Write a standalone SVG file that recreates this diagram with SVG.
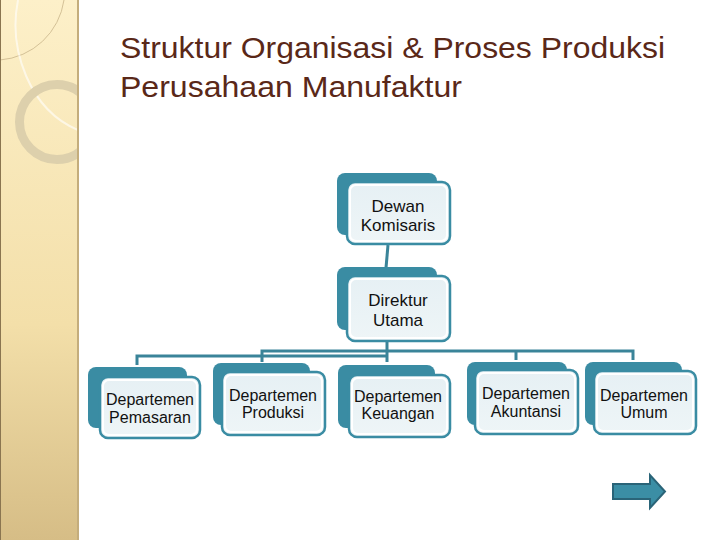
<svg xmlns="http://www.w3.org/2000/svg" width="720" height="540" viewBox="0 0 720 540">
<defs>
<linearGradient id="band" x1="0" y1="0" x2="0" y2="1">
<stop offset="0" stop-color="#fdf0c9"/>
<stop offset="0.6" stop-color="#f3dfa9"/>
<stop offset="1" stop-color="#d6bd86"/>
</linearGradient>
<linearGradient id="front" x1="0" y1="0" x2="0" y2="1">
<stop offset="0" stop-color="#e6f0f4"/>
<stop offset="1" stop-color="#eef5f7"/>
</linearGradient>
<clipPath id="bandclip"><rect x="0" y="0" width="78" height="540"/></clipPath>
</defs>
<style>
.back{fill:#3a8ca3;}
.front{fill:url(#front);stroke:#3a8ca3;stroke-width:2.5;}
.rim{fill:none;stroke:#ffffff;stroke-width:2;}
.conn{fill:none;stroke:#3a8499;stroke-width:3;}
.t{font-family:"Liberation Sans",Arial,sans-serif;fill:#111;text-anchor:middle;}
.title{font-family:"Liberation Sans",Arial,sans-serif;fill:#5a2818;font-size:30px;}
</style>
<rect x="0" y="0" width="720" height="540" fill="#ffffff"/>
<g id="background-band">
<rect x="0" y="0" width="78" height="540" fill="url(#band)"/>
<g clip-path="url(#bandclip)">
<path d="M0,60 A70,70 0 0 0 64,0" fill="none" stroke="#c9b58a" stroke-width="0.8"/>
<path d="M18,0 C8,50 30,110 78,130" fill="none" stroke="#ffffff" stroke-opacity="0.6" stroke-width="2"/>
<circle cx="57" cy="122" r="37.5" fill="none" stroke="#ddd0ac" stroke-width="9"/>
</g>
<line x1="78" y1="0" x2="78" y2="540" stroke="#c4ad7c" stroke-width="2"/>
<line x1="0.5" y1="0" x2="0.5" y2="540" stroke="#8a7550" stroke-width="1"/>
</g>
<g id="title">
<text class="title" x="120" y="58" textLength="545" lengthAdjust="spacingAndGlyphs">Struktur Organisasi &amp; Proses Produksi</text>
<text class="title" x="120" y="97" textLength="342" lengthAdjust="spacingAndGlyphs">Perusahaan Manufaktur</text>
</g>
<g id="connectors">
<path class="conn" d="M388,245 L386,268"/>
<path class="conn" d="M387,342 L387,362"/>
<path class="conn" d="M387,356 L137,356 L137,365"/>
<path class="conn" d="M387,351 L262,351 L262,362"/>
<path class="conn" d="M387,351 L633,351 L633,360"/>
<path class="conn" d="M516,351 L516,360"/>
</g>
<g id="dewan-komisaris">
<rect class="back" x="337" y="173" width="100" height="62" rx="8"/>
<rect class="front" x="347" y="182" width="103" height="62" rx="8"/>
<rect class="rim" x="350" y="185" width="97" height="56" rx="6"/>
<text class="t" x="398" y="212" font-size="17">Dewan</text>
<text class="t" x="398" y="231" font-size="17">Komisaris</text>
</g>
<g id="direktur-utama">
<rect class="back" x="337" y="267" width="100" height="63" rx="8"/>
<rect class="front" x="347" y="276" width="103" height="65" rx="8"/>
<rect class="rim" x="350" y="279" width="97" height="59" rx="6"/>
<text class="t" x="398" y="306" font-size="17">Direktur</text>
<text class="t" x="398" y="326" font-size="17">Utama</text>
</g>
<g id="dept-pemasaran">
<rect class="back" x="88" y="367" width="99" height="61" rx="8"/>
<rect class="front" x="100" y="377" width="100" height="61" rx="8"/>
<rect class="rim" x="103" y="380" width="94" height="55" rx="6"/>
<text class="t" x="150" y="405" font-size="16">Departemen</text>
<text class="t" x="150" y="423" font-size="16">Pemasaran</text>
</g>
<g id="dept-produksi">
<rect class="back" x="213" y="363" width="97" height="62" rx="8"/>
<rect class="front" x="222" y="372" width="103" height="63" rx="8"/>
<rect class="rim" x="225" y="375" width="97" height="57" rx="6"/>
<text class="t" x="273" y="401" font-size="16">Departemen</text>
<text class="t" x="273" y="418" font-size="16">Produksi</text>
</g>
<g id="dept-keuangan">
<rect class="back" x="338" y="365" width="97" height="63" rx="8"/>
<rect class="front" x="349" y="375" width="101" height="62" rx="8"/>
<rect class="rim" x="352" y="378" width="95" height="56" rx="6"/>
<text class="t" x="398" y="402" font-size="16">Departemen</text>
<text class="t" x="398" y="419" font-size="16">Keuangan</text>
</g>
<g id="dept-akuntansi">
<rect class="back" x="467" y="362" width="100" height="63" rx="8"/>
<rect class="front" x="475" y="370" width="103" height="64" rx="8"/>
<rect class="rim" x="478" y="373" width="97" height="58" rx="6"/>
<text class="t" x="526" y="399" font-size="16">Departemen</text>
<text class="t" x="526" y="417" font-size="16">Akuntansi</text>
</g>
<g id="dept-umum">
<rect class="back" x="585" y="362" width="97" height="63" rx="8"/>
<rect class="front" x="594" y="371" width="102" height="63" rx="8"/>
<rect class="rim" x="597" y="374" width="96" height="57" rx="6"/>
<text class="t" x="644" y="401" font-size="16">Departemen</text>
<text class="t" x="644" y="418" font-size="16">Umum</text>
</g>
<g id="next-arrow">
<path d="M613,484 L650,484 L650,475 L665,491.5 L650,508 L650,499 L613,499 Z" fill="#3b8ea5" stroke="#2a6478" stroke-width="2" stroke-linejoin="miter"/>
</g>
</svg>
